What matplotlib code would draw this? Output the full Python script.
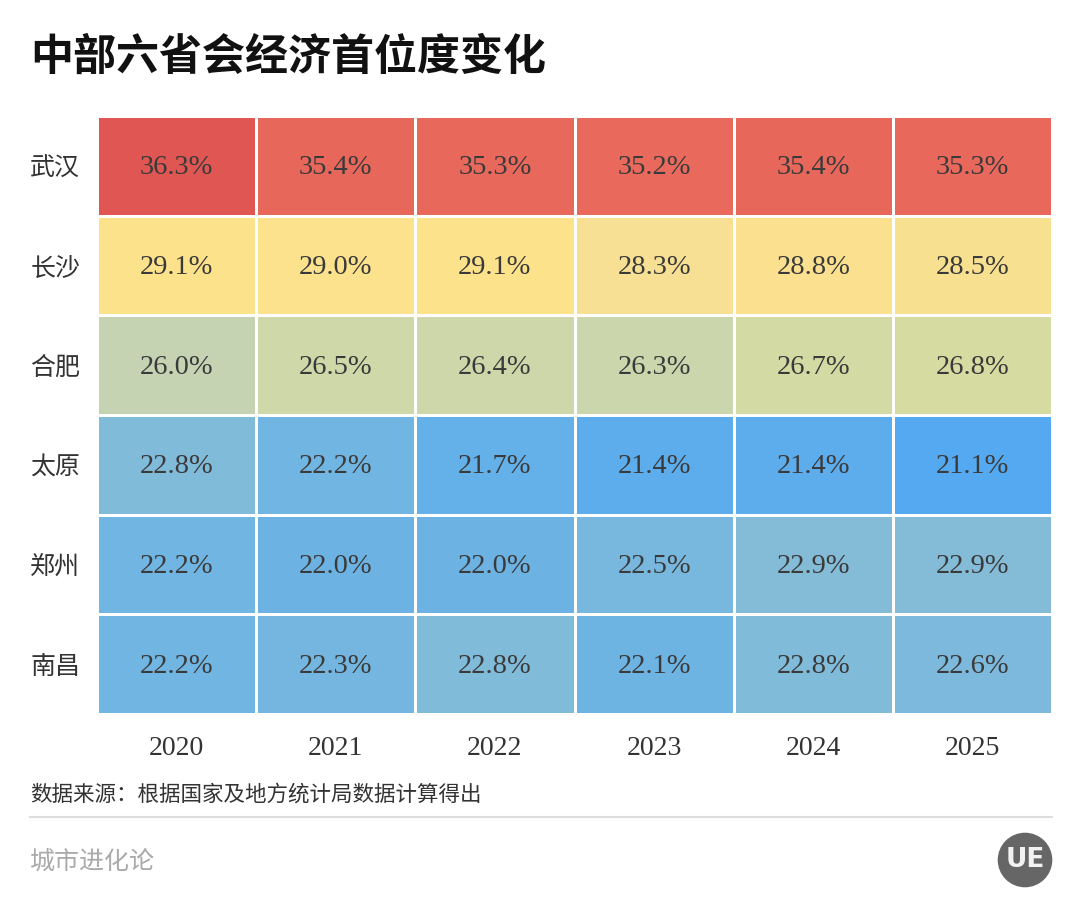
import numpy as np
import matplotlib
matplotlib.use("Agg")
import matplotlib.pyplot as plt
from matplotlib.colors import LinearSegmentedColormap, Normalize
from matplotlib.patches import Circle

plt.rcParams['font.family'] = ['Noto Sans CJK SC', 'DejaVu Sans']

# 数据
cities = ["武汉", "长沙", "合肥", "太原", "郑州", "南昌"]
years = ["2020", "2021", "2022", "2023", "2024", "2025"]
wuhan = [36.3, 35.4, 35.3, 35.2, 35.4, 35.3]
changsha = [29.1, 29.0, 29.1, 28.3, 28.8, 28.5]
hefei = [26.0, 26.5, 26.4, 26.3, 26.7, 26.8]
taiyuan = [22.8, 22.2, 21.7, 21.4, 21.4, 21.1]
zhengzhou = [22.2, 22.0, 22.0, 22.5, 22.9, 22.9]
nanchang = [22.2, 22.3, 22.8, 22.1, 22.8, 22.6]

values = np.array([wuhan, changsha, hefei, taiyuan, zhengzhou, nanchang])

# 配色：蓝 -> 浅蓝 -> 灰绿 -> 黄 -> 红
vmin, vmax = 21.1, 36.3
stops = [(21.1, "#55a9f0"), (22.0, "#6cb3e4"), (22.9, "#84bcd8"),
         (26.0, "#c5d3b3"), (26.8, "#d6dba2"), (28.3, "#f7e093"),
         (29.1, "#fde28c"), (35.3, "#e9695c"), (36.3, "#e05652")]
cmap = LinearSegmentedColormap.from_list(
    "shoufu", [((v - vmin) / (vmax - vmin), c) for v, c in stops])
norm = Normalize(vmin, vmax)

fig = plt.figure(figsize=(10.8, 9.18), dpi=100)
ax = fig.add_axes([97 / 1080, 1 - 714 / 918, 955 / 1080, 598 / 918])

ax.pcolormesh(values, cmap=cmap, norm=norm, edgecolors="white", linewidth=2)
ax.set_xlim(0, len(years))
ax.set_ylim(len(cities), 0)

for i in range(len(cities)):
    for j in range(len(years)):
        ax.text(j + 0.5, i + 0.52, f"{values[i, j]:.1f}%", ha="center", va="center",
                fontsize=20.5, color="#3a3a3a", family="Liberation Serif")

ax.set_xticks(np.arange(len(years)) + 0.5)
ax.set_xticklabels(years, family="Liberation Serif", fontsize=20, color="#333333")
ax.set_yticks(np.arange(len(cities)) + 0.5)
ax.set_yticklabels(cities, fontsize=18, color="#333333")
ax.tick_params(length=0)
ax.tick_params(axis="x", pad=16)
ax.tick_params(axis="y", pad=12)
for s in ax.spines.values():
    s.set_visible(False)

# 标题和注释
fig.text(30 / 1080, 1 - 57 / 918, "中部六省会经济首位度变化", fontsize=31,
         fontweight="bold", color="#111111", va="center", ha="left")
fig.text(30 / 1080, 1 - 795 / 918, "数据来源：根据国家及地方统计局数据计算得出",
         fontsize=15.5, color="#333333", va="center", ha="left")
fig.add_artist(plt.Line2D([30 / 1080, 1052 / 1080], [1 - 817 / 918, 1 - 817 / 918],
                          color="#dddddd", linewidth=1.5))
fig.text(30 / 1080, 1 - 862 / 918, "城市进化论", fontsize=18, color="#aaaaaa",
         va="center", ha="left")

# 右下角标志
logo = fig.add_axes([(1025 - 28) / 1080, 1 - (860 + 28) / 918, 56 / 1080, 56 / 918])
logo.set_xlim(-1, 1)
logo.set_ylim(-1, 1)
logo.set_aspect("equal")
logo.axis("off")
logo.add_patch(Circle((0, 0), 0.95, color="#666666"))
logo.text(0, 0, "UE", ha="center", va="center", fontsize=19, fontweight="bold",
          color="#f2f2f2", family="DejaVu Sans")

fig.savefig("out.png", dpi=100, facecolor="white")
